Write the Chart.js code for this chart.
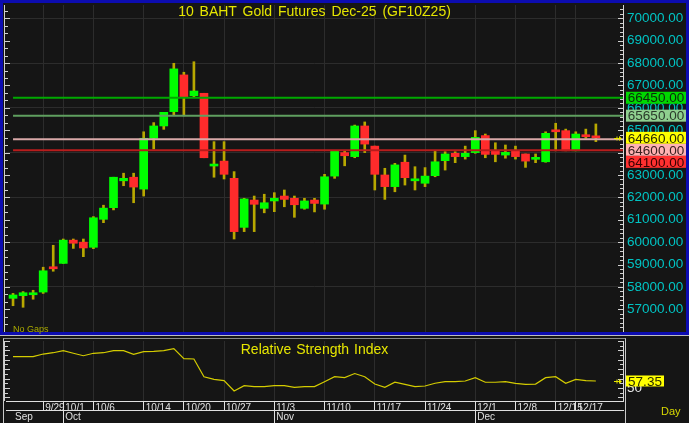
<!DOCTYPE html>
<html lang="pt-BR">
<head>
<meta charset="utf-8">
<title>10 BAHT Gold Futures Dec-25</title>
<script src="https://cdn.jsdelivr.net/npm/chart.js@4.4.1/dist/chart.umd.min.js"></script>
<style>
    html, body { margin: 0; padding: 0; background: #151515; }
    #painel { position: relative; width: 689px; height: 423px; overflow: hidden; background: #151515; font-family: "Liberation Sans", Arial, sans-serif; }
    canvas { position: absolute; left: 0; }
    #grafico { top: 0; }
    #graficoRsi { top: 336px; }
    .texto { position: absolute; white-space: nowrap; pointer-events: none; }
    #titulo { left: 6px; width: 617px; top: 3px; text-align: center; font-size: 14px; color: #e6e600; word-spacing: 2px; }
    #semGaps { left: 13px; top: 324px; font-size: 9px; color: #a8a800; }
    #tituloRsi { left: 6px; width: 617px; top: 341px; text-align: center; font-size: 14px; color: #e6e600; word-spacing: 1px; }
    #periodo { left: 661px; top: 405px; font-size: 11px; color: #d8d800; }
    #moldura { position: absolute; left: 0; top: 0; width: 689px; height: 335px; box-sizing: border-box; border: 3px solid #0c0cb0; pointer-events: none; }
    #linhaBranca { position: absolute; left: 0; top: 335px; width: 689px; height: 1px; background: #bdbdbd; }
    #molduraRsi { position: absolute; left: 3px; top: 338px; width: 623px; height: 85px; box-sizing: border-box; border-top: 1px solid #8a8a8a; border-left: 1px solid #c8c8c8; border-right: 1px solid #c8c8c8; pointer-events: none; }
</style>
</head>
<body>
<div id="painel">
    <canvas id="grafico" width="689" height="336"></canvas>
    <canvas id="graficoRsi" width="689" height="87"></canvas>
    <div id="moldura"></div>
    <div id="linhaBranca"></div>
    <div id="molduraRsi"></div>
    <div id="titulo" class="texto">10 BAHT Gold Futures Dec-25 (GF10Z25)</div>
    <div id="semGaps" class="texto">No Gaps</div>
    <div id="tituloRsi" class="texto">Relative Strength Index</div>
    <div id="periodo" class="texto">Day</div>
</div>
<script>
// pregões (dias úteis) mostrados no gráfico
const datas = ['9/24', '9/25', '9/26', '9/29', '9/30', '10/1', '10/2', '10/3', '10/6', '10/7',
    '10/8', '10/9', '10/10', '10/14', '10/15', '10/16', '10/17', '10/20', '10/21', '10/22',
    '10/24', '10/27', '10/28', '10/29', '10/30', '10/31', '11/3', '11/4', '11/5', '11/6',
    '11/7', '11/10', '11/11', '11/12', '11/13', '11/14', '11/17', '11/18', '11/19', '11/20',
    '11/21', '11/24', '11/25', '11/26', '11/27', '11/28', '12/1', '12/2', '12/3', '12/4',
    '12/8', '12/9', '12/11', '12/12', '12/15', '12/16', '12/17', '12/18', '12/19'];

const abertura = [57490, 57610, 57650, 57770, 58900, 59050, 60090, 60000, 59770, 61020,
    61540, 62740, 62900, 62370, 64640, 65190, 65830, 67470, 66540, 66650,
    63400, 63620, 62850, 60660, 61880, 61510, 61840, 62060, 61960, 61510,
    61880, 61700, 62950, 64000, 63820, 65190, 64290, 63000, 62480, 63570,
    62740, 62630, 62970, 63640, 63970, 63820, 64000, 64760, 64070, 63890,
    64070, 63940, 63700, 63590, 65010, 64980, 64080, 64790, 64740];
const maxima = [57710, 57790, 57850, 58880, 59860, 60140, 60140, 60140, 61140, 61650,
    62900, 63080, 63080, 64930, 65340, 65800, 67990, 67590, 68060, 66650,
    64490, 64490, 63150, 61960, 62060, 62140, 62210, 62330, 62060, 61960,
    61960, 63030, 64070, 64070, 65230, 65370, 64290, 63300, 63520, 63890,
    63370, 63330, 64070, 64040, 64040, 64290, 64980, 64830, 64440, 64340,
    64290, 63940, 63940, 64930, 65310, 65050, 64930, 65050, 65280];
const minima = [57160, 57090, 57450, 57710, 58700, 59050, 59720, 59350, 59710, 60870,
    61440, 62520, 61760, 62060, 64160, 65040, 65680, 65640, 66450, 63770,
    62900, 62820, 60140, 60470, 60470, 61310, 61360, 61580, 61110, 61470,
    61350, 61470, 62850, 63410, 63770, 64000, 62330, 61910, 62250, 62550,
    62330, 62480, 62920, 63220, 63550, 63710, 63970, 63770, 63590, 63750,
    63710, 63340, 63550, 63570, 64080, 64080, 64080, 64640, 64490];
const fechamento = [57640, 57740, 57740, 58720, 58810, 60090, 59950, 59740, 61090, 61520,
    62900, 62850, 62460, 64640, 65190, 65800, 67740, 66500, 66750, 63770,
    63430, 63030, 60470, 61930, 61690, 61760, 61960, 61910, 61670, 61840,
    61730, 62920, 64070, 63860, 65190, 64380, 63030, 62480, 63450, 62880,
    62780, 62950, 63590, 63940, 63820, 63970, 64680, 63920, 63920, 64010,
    63820, 63620, 63730, 64860, 64930, 64080, 64830, 64710, 64660];

const rsi = [83.3, 83.3, 83.3, 86.1, 87.5, 89.7, 86.9, 84.3, 86.9, 87.5,
    89.7, 89.7, 85.8, 88.6, 89.0, 89.7, 91.8, 81.1, 80.8, 61.9,
    59.1, 57.7, 46.7, 52.3, 51.3, 51.3, 52.3, 52.3, 50.6, 51.3,
    51.3, 56.6, 61.9, 60.9, 65.3, 61.9, 54.1, 50.6, 56.0, 53.8,
    51.3, 52.0, 54.9, 56.6, 56.6, 57.3, 60.9, 56.0, 56.0, 56.6,
    54.9, 53.8, 54.1, 60.9, 61.9, 54.9, 59.1, 57.7, 57.35];

// linhas horizontais de referência
const niveis = [66450, 65650, 64600, 64100];

// rótulos dos eixos
const rotulosPreco = [57000, 58000, 59000, 60000, 61000, 62000, 63000, 64000, 65000, 66000, 67000, 68000, 69000, 70000];
const rotulosDatas = ['9/29', '10/1', '10/6', '10/14', '10/20', '10/27', '11/3', '11/10', '11/17', '11/24', '12/1', '12/8', '12/15', '12/17'];
const rotulosMeses = ['Sep', 'Oct', 'Nov', 'Dec'];
const inicioMeses = ['9/24', '10/1', '11/3', '12/1'];
const rotulosRsi = [50];

const marcasDatas = rotulosDatas.map(d => datas.indexOf(d));
const marcasMeses = inicioMeses.map(d => datas.indexOf(d));
const ultimoPreco = fechamento[fechamento.length - 1];
const ultimoRsi = rsi[rsi.length - 1];

const xMin = -0.7;
const xMax = 60.7;
const fonteEixo = '"Liberation Sans", Arial, sans-serif';

Chart.defaults.font.family = '"Liberation Sans", Arial, sans-serif';

// tira o espaço extra que o Chart.js reserva para os rótulos das pontas
function ajustarEixoY(escala) {
    escala.width = 66;
    escala.paddingTop = 0;
    escala.paddingBottom = 0;
}

function ajustarEixoX(escala, altura) {
    escala.height = altura;
    escala.paddingLeft = 0;
    escala.paddingRight = 0;
}

const pluginEscala = {
    id: 'escala',
    afterDraw(chart, args, opcoes) {
        const ctx = chart.ctx;
        const area = chart.chartArea;
        const eixoY = chart.scales.y;

        ctx.save();
        ctx.strokeStyle = '#d0d0d0';
        ctx.lineWidth = 1;
        ctx.beginPath();
        ctx.moveTo(area.left - 1.5, area.top);
        ctx.lineTo(area.left - 1.5, area.bottom);
        const iniEsq = Math.ceil(eixoY.min / opcoes.passoEsquerda);
        for (let i = iniEsq; i * opcoes.passoEsquerda <= eixoY.max; i++) {
            const py = Math.round(eixoY.getPixelForValue(i * opcoes.passoEsquerda)) + 0.5;
            const tam = i % opcoes.grandeEsquerda === 0 ? 4 : 2;
            ctx.moveTo(area.left - 2, py);
            ctx.lineTo(area.left + tam, py);
        }
        const iniDir = Math.ceil(eixoY.min / opcoes.passoDireita);
        for (let i = iniDir; i * opcoes.passoDireita <= eixoY.max; i++) {
            const py = Math.round(eixoY.getPixelForValue(i * opcoes.passoDireita)) + 0.5;
            const tam = i % opcoes.grandeDireita === 0 ? 5 : 3;
            ctx.moveTo(area.right - tam, py);
            ctx.lineTo(area.right, py);
        }
        ctx.stroke();

        // marcador do último valor
        const pyUlt = Math.round(eixoY.getPixelForValue(opcoes.ultimo)) + 0.5;
        ctx.strokeStyle = '#e6e600';
        ctx.fillStyle = '#e6e600';
        ctx.beginPath();
        ctx.moveTo(area.right - 9, pyUlt);
        ctx.lineTo(area.right - 3, pyUlt);
        ctx.moveTo(area.right - 6, pyUlt - 2);
        ctx.lineTo(area.right - 6, pyUlt + 2);
        ctx.stroke();
        ctx.beginPath();
        ctx.moveTo(area.right - 4, pyUlt - 2.5);
        ctx.lineTo(area.right - 1, pyUlt);
        ctx.lineTo(area.right - 4, pyUlt + 2.5);
        ctx.fill();

        // caixas de valores no eixo da direita
        ctx.font = opcoes.fonteCaixa;
        ctx.textAlign = 'center';
        ctx.textBaseline = 'middle';
        let limite = -Infinity;
        opcoes.caixas.slice().sort((a, b) => b.valor - a.valor).forEach(caixa => {
            const texto = caixa.valor.toFixed(2);
            const largura = opcoes.larguraCaixa || Math.ceil(ctx.measureText(texto).width + 4);
            let topo = eixoY.getPixelForValue(caixa.valor) - opcoes.alturaCaixa / 2;
            if (topo < limite) {
                topo = limite;
            }
            ctx.fillStyle = caixa.fundo;
            ctx.fillRect(area.right + 3, topo, largura, opcoes.alturaCaixa);
            ctx.fillStyle = caixa.cor;
            ctx.fillText(texto, area.right + 3 + largura / 2, topo + opcoes.alturaCaixa / 2 + 1);
            limite = topo + opcoes.alturaCaixa;
        });
        ctx.restore();
    }
};

function gerarGraficoPreco() {
    const ctx = document.getElementById('grafico').getContext('2d');
    const alta = abertura.map((a, i) => fechamento[i] >= a);

    const coresNivel = ['#00a800', '#5f9f5f', '#d8a8a8', '#b81c1c'];
    const datasetsNiveis = niveis.map((valor, k) => ({
        type: 'line',
        data: [{ x: 0, y: valor }, { x: xMax, y: valor }],
        borderColor: coresNivel[k],
        borderWidth: 2,
        pointRadius: 0,
        order: 0
    }));

    new Chart(ctx, {
        type: 'bar',
        data: {
            datasets: [
                ...datasetsNiveis,
                {
                    data: abertura.map((a, i) => ({ x: i, y: [a, fechamento[i]] })),
                    backgroundColor: alta.map(s => s ? '#00ff00' : '#ff2b2b'),
                    borderWidth: 0,
                    borderSkipped: false,
                    barThickness: 8,
                    minBarLength: 2,
                    grouped: false,
                    order: 1
                },
                {
                    data: minima.map((m, i) => ({ x: i, y: [m, maxima[i]] })),
                    backgroundColor: '#b8a800',
                    borderWidth: 0,
                    barThickness: 2,
                    grouped: false,
                    order: 2
                }
            ]
        },
        options: {
            responsive: false,
            animation: false,
            layout: { padding: { left: 6, top: 5, bottom: 3, right: 0 } },
            plugins: {
                legend: { display: false },
                tooltip: { enabled: false },
                escala: {
                    passoEsquerda: 1000 / 3,
                    grandeEsquerda: 3,
                    passoDireita: 200,
                    grandeDireita: 5,
                    ultimo: ultimoPreco,
                    fonteCaixa: '13.5px ' + fonteEixo,
                    alturaCaixa: 12,
                    larguraCaixa: 60,
                    caixas: [
                        { valor: niveis[0], fundo: '#00d800', cor: '#0c2a0c' },
                        { valor: niveis[1], fundo: '#8fcf8f', cor: '#2a3a2a' },
                        { valor: ultimoPreco, fundo: '#ffff00', cor: '#2a2a00' },
                        { valor: niveis[2], fundo: '#ffb2b2', cor: '#3a2020' },
                        { valor: niveis[3], fundo: '#ff3030', cor: '#3a0000' }
                    ]
                }
            },
            scales: {
                x: {
                    type: 'linear',
                    min: xMin,
                    max: xMax,
                    offset: false,
                    afterBuildTicks: escala => { escala.ticks = marcasDatas.map(v => ({ value: v })); },
                    afterFit: escala => ajustarEixoX(escala, 0),
                    ticks: { display: false },
                    grid: { color: '#2c2c2c', drawTicks: false, offset: false },
                    border: { display: false }
                },
                y: {
                    position: 'right',
                    min: 55941,
                    max: 70594,
                    afterBuildTicks: escala => { escala.ticks = rotulosPreco.map(v => ({ value: v })); },
                    afterFit: ajustarEixoY,
                    ticks: {
                        color: '#00c4c4',
                        font: { family: fonteEixo, size: 13.5 },
                        padding: 4,
                        autoSkip: false,
                        callback: v => v.toFixed(2)
                    },
                    grid: {
                        drawTicks: false,
                        color: c => c.tick && c.tick.value % 2000 === 0 ? '#2c2c2c' : 'transparent'
                    },
                    border: { color: '#d8d8d8', width: 1 }
                }
            }
        },
        plugins: [pluginEscala]
    });
}

function gerarGraficoRsi() {
    const ctx = document.getElementById('graficoRsi').getContext('2d');

    new Chart(ctx, {
        type: 'line',
        data: {
            datasets: [{
                data: rsi.map((v, i) => ({ x: i, y: v })),
                borderColor: '#d4cc00',
                borderWidth: 1.2,
                pointRadius: 0,
                tension: 0
            }]
        },
        options: {
            responsive: false,
            animation: false,
            layout: { padding: { left: 6, top: 5, bottom: 0, right: 0 } },
            plugins: {
                legend: { display: false },
                tooltip: { enabled: false },
                escala: {
                    passoEsquerda: 5,
                    grandeEsquerda: 2,
                    passoDireita: 5,
                    grandeDireita: 2,
                    ultimo: ultimoRsi,
                    fonteCaixa: '13.5px ' + fonteEixo,
                    alturaCaixa: 11,
                    caixas: [{ valor: ultimoRsi, fundo: '#ffff00', cor: '#2a2a00' }]
                }
            },
            scales: {
                x: {
                    type: 'linear',
                    position: 'bottom',
                    min: xMin,
                    max: xMax,
                    weight: 0,
                    afterBuildTicks: escala => { escala.ticks = marcasDatas.map(v => ({ value: v })); },
                    afterFit: escala => ajustarEixoX(escala, 9),
                    ticks: {
                        align: 'start',
                        labelOffset: 2,
                        padding: -8,
                        autoSkip: false,
                        maxRotation: 0,
                        color: '#e0e0e0',
                        font: { size: 10 },
                        callback: v => datas[v]
                    },
                    grid: { color: '#2c2c2c', tickColor: '#e0e0e0', tickLength: 9 },
                    border: { color: '#e0e0e0' }
                },
                x2: {
                    type: 'linear',
                    position: 'bottom',
                    min: xMin,
                    max: xMax,
                    weight: 1,
                    afterBuildTicks: escala => { escala.ticks = marcasMeses.map(v => ({ value: v })); },
                    afterFit: escala => ajustarEixoX(escala, 13),
                    ticks: {
                        align: 'start',
                        labelOffset: 2,
                        padding: -12,
                        autoSkip: false,
                        maxRotation: 0,
                        color: '#e0e0e0',
                        font: { size: 10 },
                        callback: v => rotulosMeses[marcasMeses.indexOf(v)]
                    },
                    grid: {
                        drawOnChartArea: false,
                        tickLength: 13,
                        tickColor: c => c.index === 0 ? 'transparent' : '#e0e0e0'
                    },
                    border: { color: '#e0e0e0' }
                },
                y: {
                    position: 'right',
                    min: 36,
                    max: 100,
                    afterBuildTicks: escala => { escala.ticks = rotulosRsi.map(v => ({ value: v })); },
                    afterFit: ajustarEixoY,
                    ticks: {
                        color: '#e8e8e8',
                        font: { family: fonteEixo, size: 13.5 },
                        padding: 4,
                        callback: v => String(v)
                    },
                    grid: { drawOnChartArea: false, drawTicks: false },
                    border: { color: '#d8d8d8' }
                }
            }
        },
        plugins: [pluginEscala]
    });
}

document.addEventListener('DOMContentLoaded', function() {
    gerarGraficoPreco();
    gerarGraficoRsi();
});
</script>
</body>
</html>
